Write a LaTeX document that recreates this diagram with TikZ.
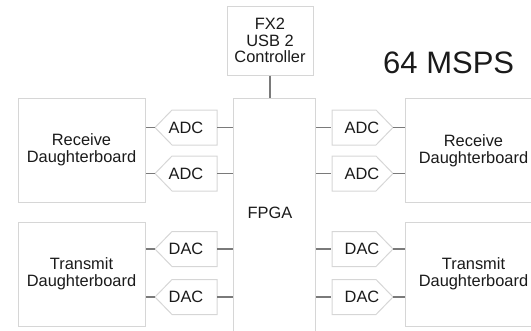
\documentclass[tikz,border=0pt]{standalone}
\usepackage{fontspec}
\setmainfont{Liberation Sans}
\definecolor{boxgray}{HTML}{D6D6D6}
\definecolor{wiregray}{HTML}{7A7A7A}
\definecolor{txt}{HTML}{1A1A1A}
\begin{document}
\begin{tikzpicture}[x=1pt,y=-1pt,
  every node/.style={font=\fontsize{16.4}{16.8}\selectfont, text=txt, align=center, inner sep=0},
  boxst/.style={draw=boxgray, line width=1pt, fill=white},
  conv/.style={minimum width=62, minimum height=35},
  outline/.style={draw=boxgray, line width=1pt},
  wire/.style={draw=wiregray, line width=1.3pt}]
\useasboundingbox (0,0) rectangle (531,330);
\clip (0,0) rectangle (531,330);
% boxes
\node[boxst, minimum width=86, minimum height=69] (fx2) at (270,40.5) {FX2\\USB 2\\Controller};
\node[boxst, minimum width=82, minimum height=245] (fpga) at (274,220.5) {};
\node (fpgat) at (270,213) {FPGA};
\node[boxst, minimum width=127, minimum height=104] (rxl) at (81.5,150) {Receive\\Daughterboard};
\node[boxst, minimum width=127, minimum height=104] (txl) at (81.5,274) {Transmit\\Daughterboard};
\node[boxst, minimum width=140, minimum height=104, anchor=west] (rxr) at (405,150) {};
\node[boxst, minimum width=140, minimum height=104, anchor=west] (txr) at (405,274) {};
\node (rxrt) at (473.5,151) {Receive\\Daughterboard};
\node (txrt) at (473.5,273.5) {Transmit\\Daughterboard};
\node[font=\fontsize{31}{31}\selectfont, anchor=west] (msps) at (383,63) {64 MSPS};
% converters (left: pointing west)
\foreach \n/\t/\y in {adcl1/ADC/127.5, adcl2/ADC/173.5, dacl1/DAC/249, dacl2/DAC/297}{
  \draw[outline] (155,\y) -- ++(17,-17.5) -- ++(45,0) -- ++(0,35) -- ++(-45,0) -- cycle;
  \node[conv] (\n) at (186,\y) {\t};
}
% converters (right: pointing east)
\foreach \n/\t/\y in {adcr1/ADC/127.5, adcr2/ADC/173.5, dacr1/DAC/249, dacr2/DAC/297}{
  \draw[outline] (393,\y) -- ++(-17,-17.5) -- ++(-44,0) -- ++(0,35) -- ++(44,0) -- cycle;
  \node[conv] (\n) at (362,\y) {\t};
}
% wires
\draw[wire] (fx2.south) -- (fx2.south |- fpga.north);
\foreach \c in {adcl1,adcl2,dacl1,dacl2}{
  \draw[wire] (\c.west) -- (\c.west -| rxl.east);
  \draw[wire] (\c.east) -- (\c.east -| fpga.west);
}
\foreach \c in {adcr1,adcr2,dacr1,dacr2}{
  \draw[wire] (\c.west) -- (\c.west -| fpga.east);
  \draw[wire] (\c.east) -- (\c.east -| rxr.west);
}
\end{tikzpicture}
\end{document}
